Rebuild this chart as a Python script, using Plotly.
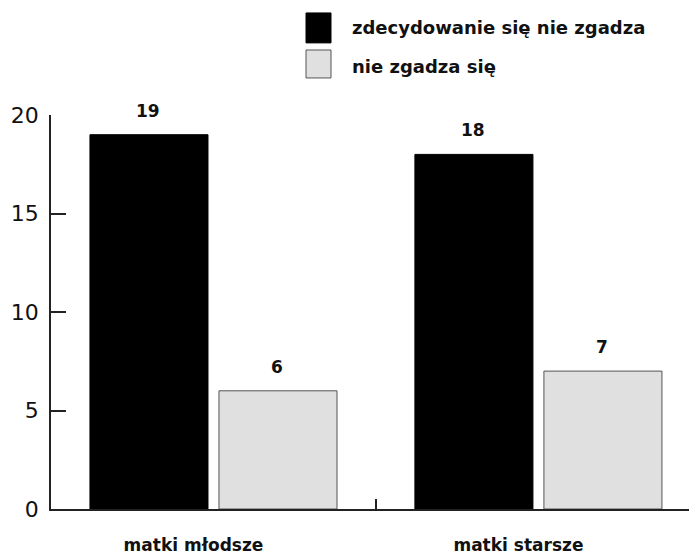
import plotly.graph_objects as go

# data
categories = ["matki młodsze", "matki starsze"]
series_names = ["zdecydowanie się nie zgadza", "nie zgadza się"]
strongly_disagree = [19, 18]
disagree = [6, 7]

colors = ["#000000", "#e0e0e0"]
outlines = ["#000000", "#555555"]
group_shift = [-65, 64]  # pixel offset of each bar inside its group

bold_font = "DejaVu Sans"

fig = go.Figure()
for i, (name, vals) in enumerate(zip(series_names, [strongly_disagree, disagree])):
    fig.add_trace(go.Bar(
        x=categories, y=vals, name=name,
        marker=dict(color=colors[i], line=dict(color=outlines[i], width=1)),
        showlegend=False,
    ))
    # value labels above the bars
    for cat, v in zip(categories, vals):
        fig.add_annotation(x=cat, y=v, text=str(v), showarrow=False,
                           xshift=group_shift[i], yshift=12, yanchor="bottom",
                           font=dict(family=bold_font, size=17, color="#111111", weight="bold"))

# hand-made legend with big square swatches
sq_y = [(1.183, 1.259), (1.094, 1.165)]
txt_y = [1.223, 1.124]
for i, name in enumerate(series_names):
    fig.add_shape(type="rect", xref="paper", yref="paper",
                  x0=(306 - 51) / 646, x1=(331 - 51) / 646,
                  y0=sq_y[i][0], y1=sq_y[i][1],
                  fillcolor=colors[i], line=dict(color=outlines[i], width=1))
    fig.add_annotation(text=name, xref="paper", yref="paper",
                       x=(350 - 51) / 646, y=txt_y[i], xanchor="left", yanchor="middle",
                       showarrow=False,
                       font=dict(family=bold_font, size=18, color="#111111", weight="bold"))

# page body adds 8px, so the figure is 8px smaller and margins shifted
fig.update_layout(
    width=689, height=548,
    margin=dict(l=43, r=0, t=107, b=47),
    paper_bgcolor="white", plot_bgcolor="white",
    barmode="group", bargap=0.206, bargroupgap=0.085,
)
fig.update_xaxes(
    range=[-0.5, 1.488], showline=True, linecolor="#222222", linewidth=1.5,
    ticks="inside", tickson="boundaries", ticklen=10, tickwidth=1.5, tickcolor="#222222",
    tickfont=dict(family=bold_font, size=17, color="#111111", weight="bold"),
    ticklabelstandoff=20, ticklabelshift=-20,
    showgrid=False, zeroline=False, automargin=False,
)
fig.update_yaxes(
    range=[0, 20], tickvals=[0, 5, 10, 15, 20],
    showline=True, linecolor="#222222", linewidth=1.5,
    ticks="inside", ticklen=15, tickwidth=1.5, tickcolor="#222222",
    tickfont=dict(family="DejaVu Sans", size=22, color="#111111"),
    ticklabelstandoff=6, showgrid=False, zeroline=False, automargin=False,
)

fig.write_html("out.html")
